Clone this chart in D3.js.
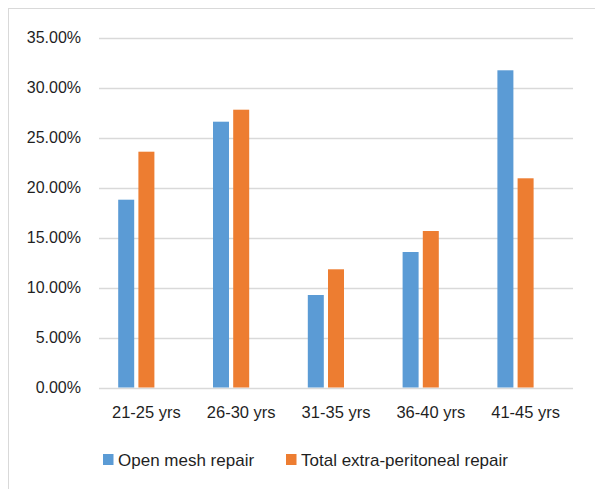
<!DOCTYPE html>
<html>
<head>
<meta charset="utf-8">
<script src="https://cdn.jsdelivr.net/npm/d3@7"></script>
<style>
html,body{margin:0;padding:0;background:#fff;}
svg{display:block;}
text{font-family:"Liberation Sans",Arial,sans-serif;fill:#1f1f1f;}
</style>
</head>
<body>
<svg id="chart" width="595" height="489"></svg>
<script>
const categories = ["21-25 yrs","26-30 yrs","31-35 yrs","36-40 yrs","41-45 yrs"];
const seriesNames = ["Open mesh repair","Total extra-peritoneal repair"];
const openMesh = [18.78, 26.58, 9.25, 13.55, 31.72];
const tep = [23.58, 27.78, 11.82, 15.65, 20.92];
const yTicks = [0,5,10,15,20,25,30,35];
const colors = ["#5B9BD5","#ED7D31"];

const svg = d3.select("#chart");
const W = 595, H = 489;

svg.append("rect").attr("x",8.5).attr("y",8.5).attr("width",W+10).attr("height",H+10)
  .attr("fill","none").attr("stroke","#D9D9D9").attr("stroke-width",1);

const plot = {left:99, right:573, top:37.5, bottom:387.5};
const x = d3.scaleBand().domain(categories).range([plot.left, plot.right]);
const y = d3.scaleLinear().domain([0,35]).range([plot.bottom, plot.top]);
const slotW = 16, slotGap = 4.2;
const slots = [0,1,2];
const groupW = slots.length*slotW + (slots.length-1)*slotGap;
const xSub = d3.scaleBand().domain(slots).range([0, groupW]).paddingInner(slotGap/(slotW+slotGap)).paddingOuter(0);

svg.append("g").selectAll("line").data(yTicks).join("line")
  .attr("x1",plot.left).attr("x2",plot.right)
  .attr("y1",d=>Math.round(y(d))+0.5).attr("y2",d=>Math.round(y(d))+0.5)
  .attr("stroke","#D9D9D9").attr("stroke-width",1.3);

svg.append("g").selectAll("text").data(yTicks).join("text")
  .attr("x",81).attr("y",d=>y(d)).attr("dy","0.36em")
  .attr("text-anchor","end").attr("font-size",16)
  .text(d=>d.toFixed(2)+"%");

const series = [openMesh, tep];
series.forEach((vals,si)=>{
  svg.append("g").selectAll("rect").data(vals).join("rect")
    .attr("x",(d,i)=>x(categories[i]) + x.bandwidth()/2 - groupW/2 + xSub(si))
    .attr("width",xSub.bandwidth())
    .attr("y",d=>y(d))
    .attr("height",d=>y(0)-y(d))
    .attr("fill",colors[si]);
});

svg.append("g").selectAll("text").data(categories).join("text")
  .attr("x",d=>x(d)+x.bandwidth()/2).attr("y",418)
  .attr("text-anchor","middle").attr("font-size",16.5)
  .text(d=>d);

const legendItems = [{name:seriesNames[0],sx:103,tx:118},{name:seriesNames[1],sx:286,tx:301}];
legendItems.forEach((it,i)=>{
  svg.append("rect").attr("x",it.sx).attr("y",454).attr("width",10.5).attr("height",11).attr("fill",colors[i]);
  svg.append("text").attr("x",it.tx).attr("y",465.5).attr("font-size",17).text(it.name);
});
</script>
</body>
</html>
